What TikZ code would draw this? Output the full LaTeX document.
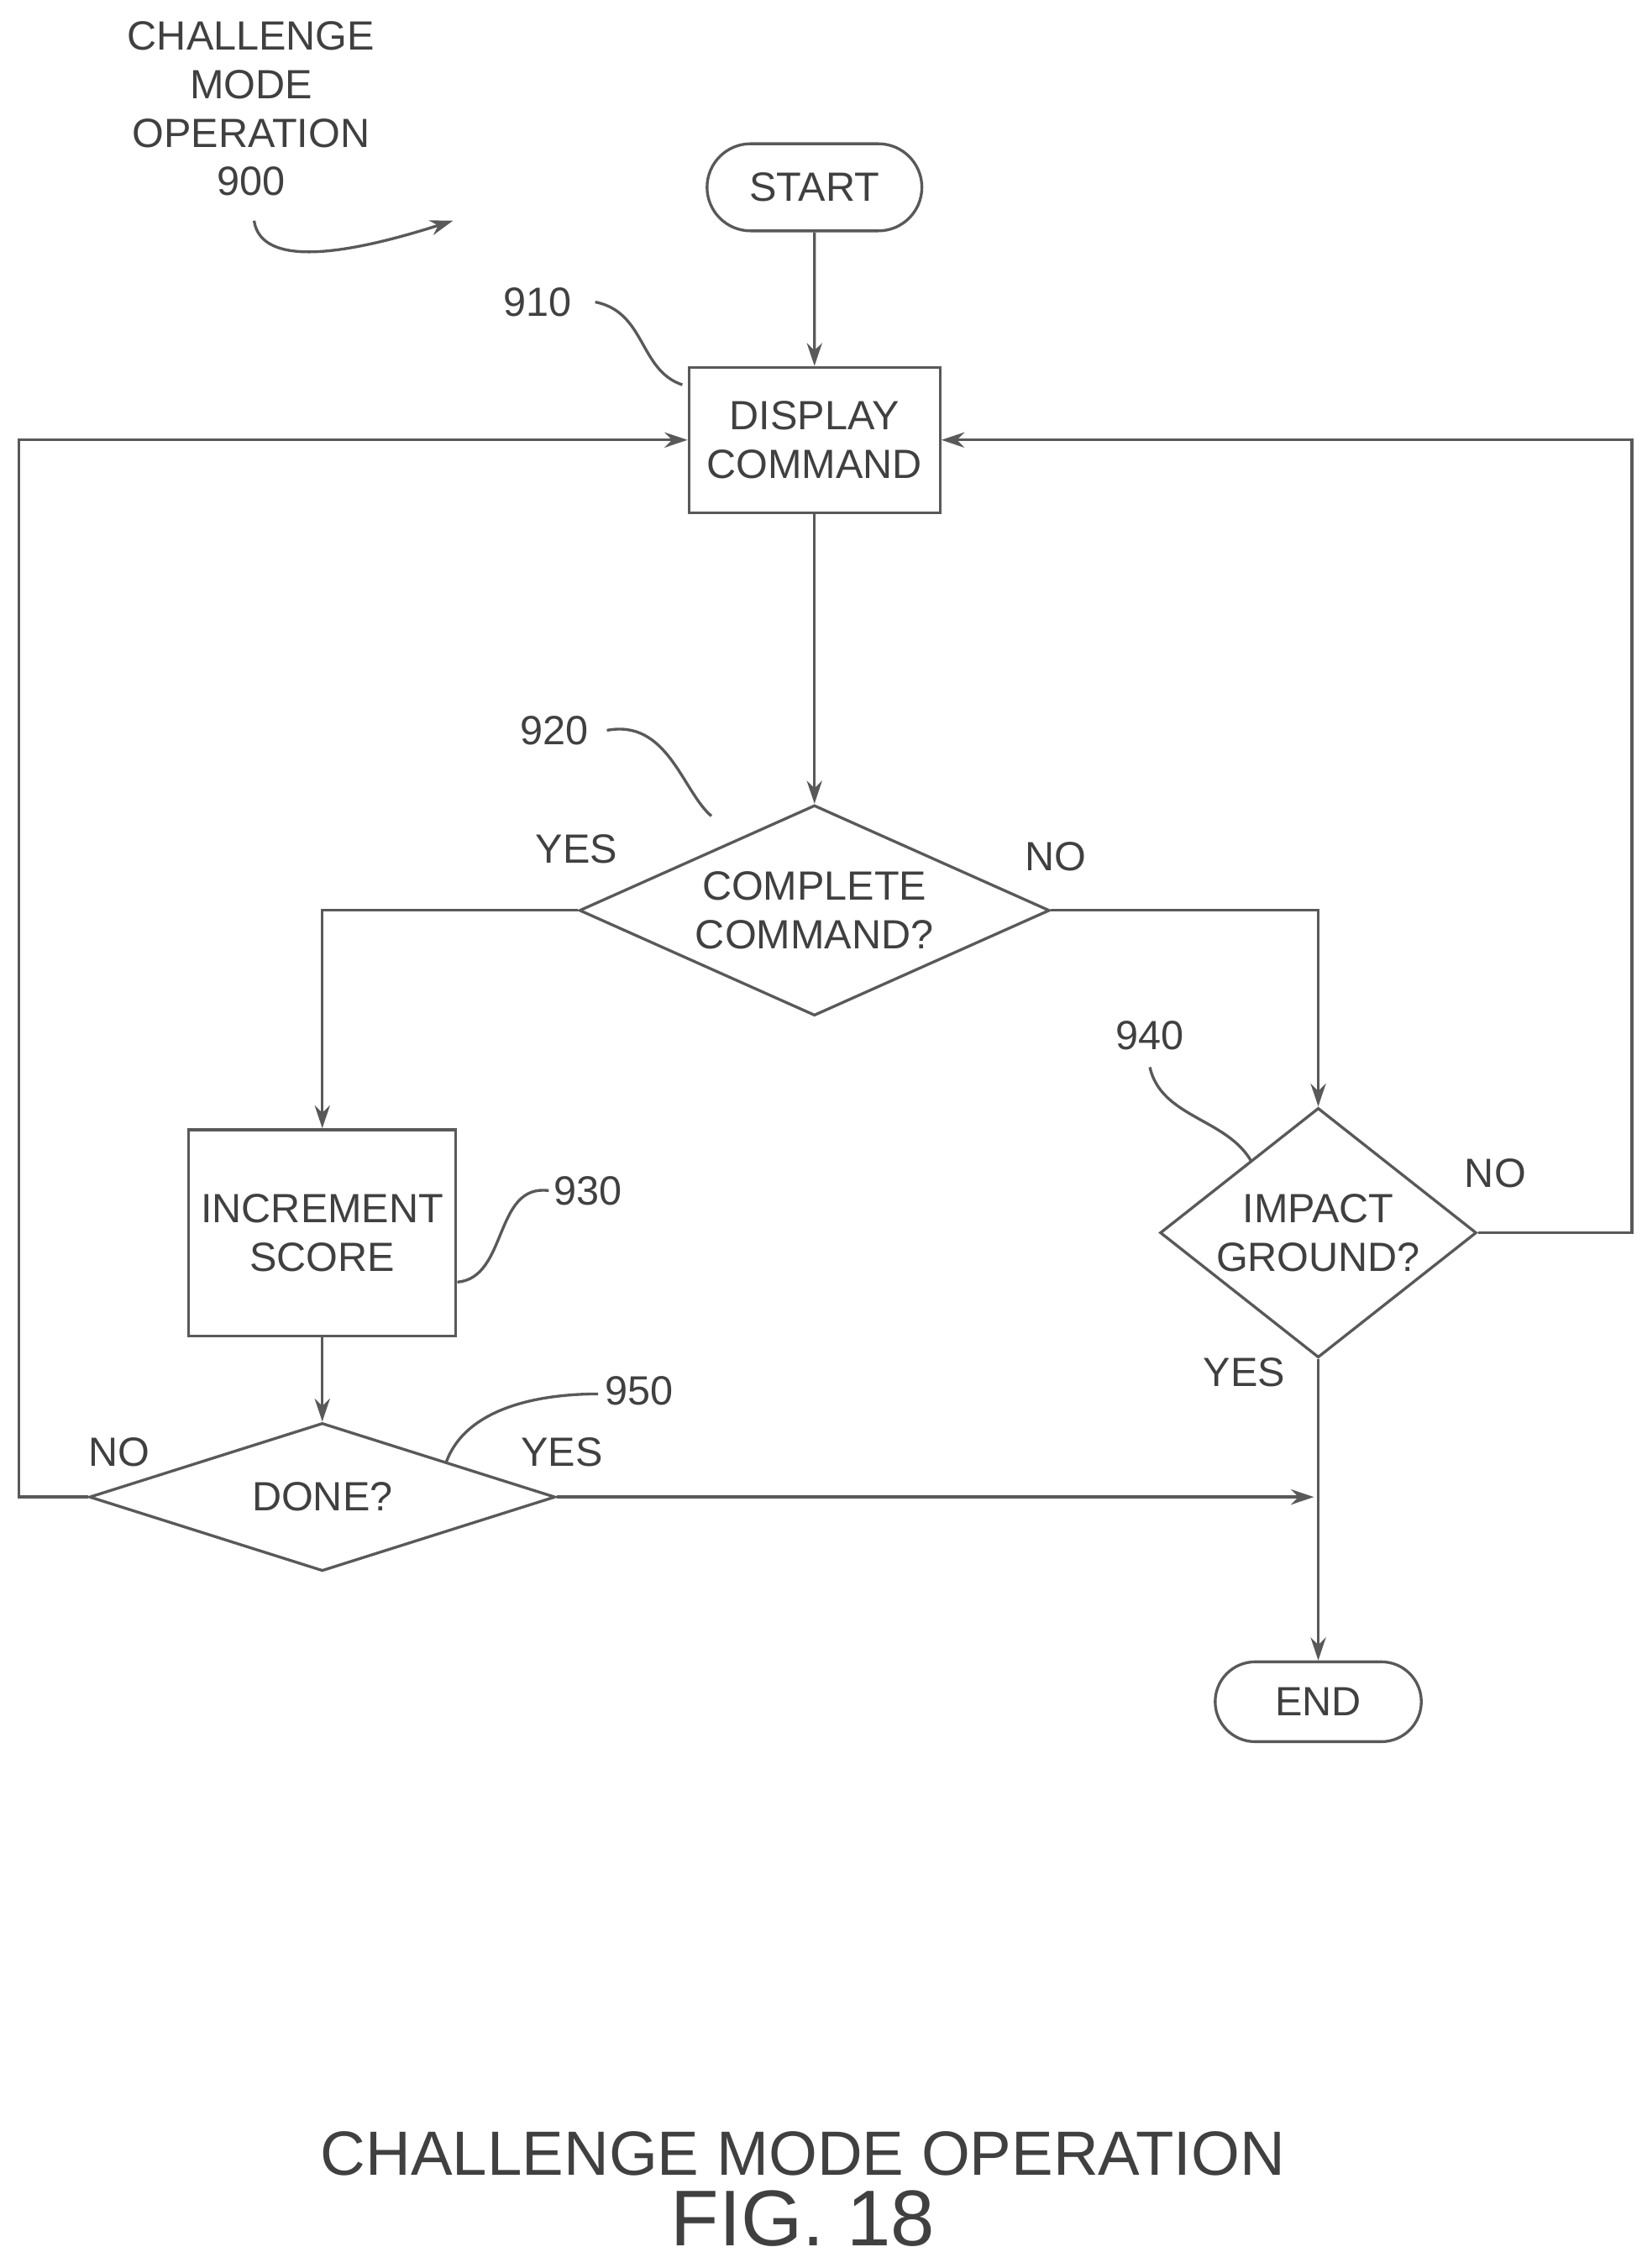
\documentclass[tikz,border=0pt]{standalone}
\usepackage{fontspec}
\setmainfont{Liberation Sans}
\usetikzlibrary{shapes.geometric,shapes.misc,arrows.meta}
\begin{document}
\begin{tikzpicture}[x=0.02cm,y=-0.02cm,
  ln/.style={draw=black!65,line width=1.1pt},
  arr/.style={ln,-{Stealth[length=9pt,width=6pt]}},
  txt/.style={text=black!75,font=\fontsize{16}{19}\selectfont,align=center},
  box/.style={ln,rectangle,txt,inner sep=0pt},
  term/.style={ln,rounded rectangle,txt,inner sep=0pt},
  dia/.style={ln,diamond,txt,inner sep=0pt}]
\useasboundingbox (0,0) rectangle (1131,1562);
\node[txt] (title) at (173,75) {CHALLENGE\\MODE\\OPERATION\\900};
\coordinate (t1) at (175,152); \coordinate (t2) at (312,152);
\draw[arr] (t1) .. controls (180,185) and (240,175) .. (t2);
\node[term,minimum width=2.96cm,minimum height=1.2cm] (start) at (561,129) {START};
\node[box,minimum width=3.46cm,minimum height=2cm] (disp) at (561,303) {DISPLAY\\COMMAND};
\draw[arr] (start) -- (disp);
\node[txt] (l910) at (370,208) {910};
\draw[ln] (410,208) .. controls (445,215) and (440,255) .. (470,265);
\node[dia,minimum width=6.48cm,minimum height=2.9cm,shape aspect=2.23] (cc) at (561,627) {COMPLETE\\COMMAND?};
\draw[arr] (disp) -- (cc.north);
\node[txt] (l920) at (382,503) {920};
\draw[ln] (418,503) .. controls (460,495) and (470,545) .. (490,562);
\node[txt] (yes1) at (397,585) {YES};
\node[txt] (no1) at (727,590) {NO};
\node[box,minimum width=3.68cm,minimum height=2.84cm] (inc) at (222,849) {INCREMENT\\SCORE};
\draw[arr] (cc.west) -| (inc.north);
\node[txt] (l930) at (405,820) {930};
\draw[ln] (315,883) .. controls (350,880) and (340,815) .. (378,820);
\node[dia,minimum width=6.42cm,minimum height=2.04cm,shape aspect=3.15] (done) at (222,1031) {DONE?};
\draw[arr] (inc) -- (done.north);
\node[txt] (l950) at (440,958) {950};
\draw[ln] (307,1008) .. controls (320,970) and (370,960) .. (412,960);
\node[txt] (no2) at (82,1000) {NO};
\node[txt] (yes2) at (387,1000) {YES};
\node[dia,minimum width=4.36cm,minimum height=3.44cm,shape aspect=1.27] (imp) at (908,849) {IMPACT\\GROUND?};
\draw[arr] (cc.east) -| (imp.north);
\node[txt] (l940) at (792,713) {940};
\draw[ln] (792,735) .. controls (800,770) and (845,770) .. (862,800);
\node[txt] (no3) at (1030,808) {NO};
\node[txt] (yes3) at (857,945) {YES};
\node[term,minimum width=2.84cm,minimum height=1.1cm] (end) at (908,1172) {END};
\draw[arr] (imp.south) -- (end.north);
\coordinate (join) at (905,1031);
\draw[arr] (done.east) -- (join);
\coordinate (lc) at (13,1031);
\draw[arr] (done.west) -- (lc) |- (disp.west);
\coordinate (rc) at (1124,849);
\draw[arr] (imp.east) -- (rc) |- (disp.east);
\node[txt,font=\fontsize{24.5}{27}\selectfont] (cap) at (553,1483) {CHALLENGE MODE OPERATION};
\node[txt,font=\fontsize{31}{34}\selectfont] (fig) at (553,1528) {FIG. 18};
\end{tikzpicture}
\end{document}
